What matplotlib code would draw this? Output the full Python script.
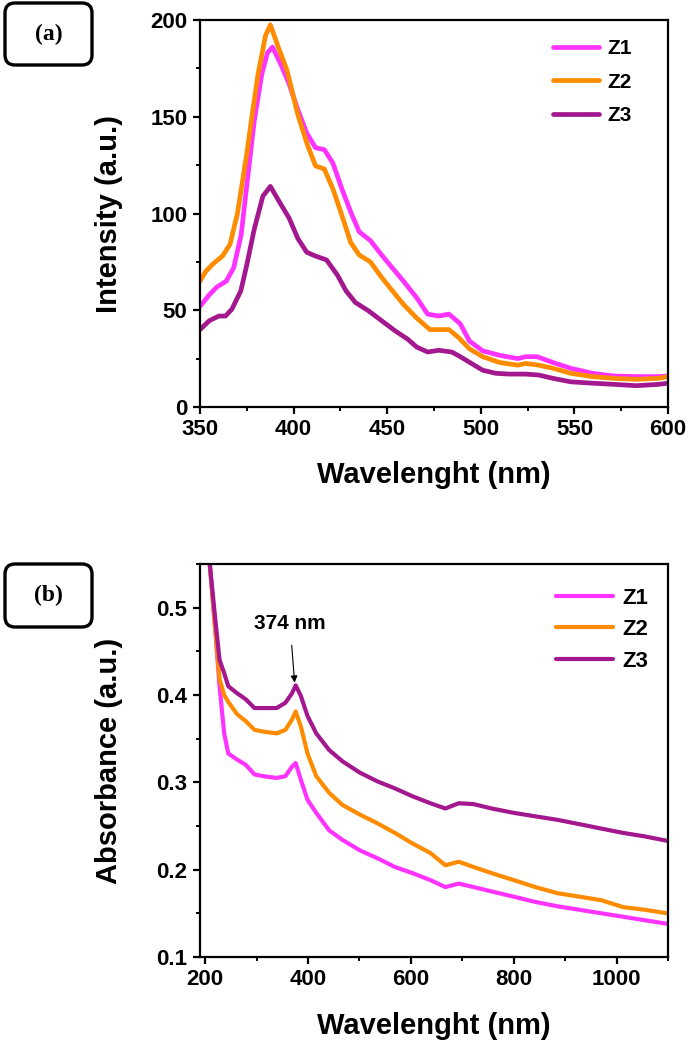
"""Photoluminescence and UV-vis absorbance of Z1-Z3"""

import matplotlib
matplotlib.use("Agg")
import matplotlib.pyplot as plt
from matplotlib.patches import FancyBboxPatch
from matplotlib.ticker import MultipleLocator

plt.rcParams['font.family'] = ['Liberation Sans', 'DejaVu Sans']
plt.rcParams['font.weight'] = 'bold'
plt.rcParams['lines.solid_joinstyle'] = 'round'
plt.rcParams['lines.solid_capstyle'] = 'round'

# colours of the three samples
colors = {'Z1': '#FF33FF', 'Z2': '#FF8C00', 'Z3': '#A3188F'}

# (a) PL emission
pl_wl_z1 = [350, 355, 359, 364, 368, 372, 375, 379, 383, 386, 388.7, 393, 397.6, 402.3, 407, 411.7,
            416.4, 421, 425.8, 430.5, 435, 441, 447, 452.8, 458.7, 465.7, 471.6, 477.5, 483, 489,
            494, 501, 510, 519.7, 524, 530, 538.5, 548, 559.6, 571, 583, 595, 600]
pl_z1 = [52, 58, 62, 65, 72, 89, 114.6, 148, 172, 183, 186, 177.5, 167, 153.5, 141.6, 134,
         133, 126, 112.7, 100.8, 90.6, 86, 78.6, 71.8, 65, 56.5, 48, 47, 48, 43,
         34, 29, 26.7, 25, 26, 26, 23, 20, 17.4, 16, 15.7, 15.7, 16]

pl_wl_z2 = [350, 353, 357, 362, 366, 370, 375, 378, 381, 385, 387.6, 391.8, 396.5, 402, 407, 411.7,
            416.4, 421, 425.8, 430.5, 435, 441, 447, 452.8, 458.7, 465.7, 472.8, 479.8, 483, 488,
            494, 501, 510, 519.7, 524, 531, 538.5, 548, 559.6, 571, 583, 595, 600]
pl_z2 = [65, 70, 74, 78, 84, 100, 131, 152, 172, 192, 197.5, 186, 174, 152, 136.5, 124.6,
         123, 112.7, 99, 85, 78.6, 75, 67, 60, 53, 46, 40, 40, 40, 36,
         30, 26, 23, 21.6, 22.5, 21.6, 20, 17.4, 15.7, 14.8, 14.3, 14.8, 15.7]

pl_wl_z3 = [350, 355, 360, 363.6, 367, 371.8, 375, 379, 383.6, 387.6, 391.8, 397.6, 402.3, 407,
            411.7, 417.6, 423.5, 428, 433, 440, 447, 454, 461, 465.7, 471.6, 477.5, 484.5, 489,
            495, 501, 508, 515, 524, 531, 538.5, 548, 559.6, 571, 583, 595, 600]
pl_z3 = [40, 44.6, 47, 47, 50.5, 60, 73.5, 92, 109, 114, 107, 97.6, 87, 80,
         78, 76, 68, 60, 54, 49.7, 44.6, 39.5, 35, 31, 28.4, 29.3, 28.4, 26,
         22.5, 19, 17.4, 17, 17, 16.5, 14.8, 13, 12.3, 11.7, 11, 11.7, 12.3]

# (b) UV-vis absorbance
abs_wl = [209, 219.6, 228, 237, 245, 262, 279, 296, 313, 339, 356, 369, 376, 386, 399, 416,
          441, 467, 501, 535, 569, 603, 638, 667, 693, 722, 757, 800, 842, 885, 928, 970,
          1013, 1055, 1098]
abs_z1 = [0.55, 0.475, 0.41, 0.356, 0.333, 0.326, 0.32, 0.309, 0.307, 0.305, 0.307, 0.318, 0.322,
          0.303, 0.28, 0.265, 0.245, 0.234, 0.222, 0.213, 0.203, 0.196, 0.188, 0.180, 0.184,
          0.180, 0.175, 0.169, 0.163, 0.158, 0.154, 0.150, 0.146, 0.142, 0.138]
abs_z2 = [0.55, 0.475, 0.418, 0.40, 0.392, 0.378, 0.37, 0.36, 0.358, 0.356, 0.36, 0.372, 0.381,
          0.364, 0.333, 0.307, 0.288, 0.274, 0.263, 0.253, 0.242, 0.230, 0.219, 0.205, 0.209,
          0.203, 0.196, 0.188, 0.180, 0.173, 0.169, 0.165, 0.157, 0.154, 0.150]
abs_z3 = [0.55, 0.487, 0.44, 0.425, 0.41, 0.402, 0.395, 0.385, 0.385, 0.385, 0.391, 0.402, 0.411,
          0.399, 0.376, 0.356, 0.337, 0.324, 0.311, 0.301, 0.293, 0.284, 0.276, 0.270, 0.276,
          0.275, 0.270, 0.265, 0.261, 0.257, 0.252, 0.247, 0.242, 0.238, 0.233]


def style_axes(ax, xmajor, xminor, ymajor, yminor):
    for sp in ax.spines.values():
        sp.set_linewidth(1.6)
    ax.xaxis.set_major_locator(MultipleLocator(xmajor))
    ax.xaxis.set_minor_locator(MultipleLocator(xminor))
    ax.yaxis.set_major_locator(MultipleLocator(ymajor))
    ax.yaxis.set_minor_locator(MultipleLocator(yminor))
    ax.tick_params(which='major', direction='out', length=5, width=1.6, labelsize=16, pad=4)
    ax.tick_params(which='minor', direction='out', length=3, width=1.4)
    for lab in ax.get_xticklabels() + ax.get_yticklabels():
        lab.set_fontweight('bold')


fig = plt.figure(figsize=(6.88, 10.43), dpi=100)
ax1 = fig.add_axes([0.2907, 0.6098, 0.6803, 0.3710])
ax2 = fig.add_axes([0.2907, 0.0825, 0.6803, 0.3768])

# panel a
ax1.plot(pl_wl_z1, pl_z1, color=colors['Z1'], lw=3.4, label='Z1')
ax1.plot(pl_wl_z2, pl_z2, color=colors['Z2'], lw=3.4, label='Z2')
ax1.plot(pl_wl_z3, pl_z3, color=colors['Z3'], lw=3.4, label='Z3')
ax1.set_xlim(350, 600)
ax1.set_ylim(0, 200)
style_axes(ax1, 50, 25, 50, 25)
ax1.set_xlabel('Wavelenght (nm)', fontsize=21, fontweight='bold')
ax1.set_ylabel('Intensity (a.u.)', fontsize=21, fontweight='bold')
ax1.xaxis.set_label_coords(0.5, -0.14)
ax1.yaxis.set_label_coords(-0.165, 0.5)
ax1.legend(loc='upper left', bbox_to_anchor=(0.755, 0.95), frameon=False,
           prop={'size': 15, 'weight': 'bold'}, handlelength=2.2, handletextpad=0.4,
           labelspacing=0.69, borderpad=0, borderaxespad=0)

# panel b
ax2.plot(abs_wl, abs_z1, color=colors['Z1'], lw=3.0, label='Z1')
ax2.plot(abs_wl, abs_z2, color=colors['Z2'], lw=3.0, label='Z2')
ax2.plot(abs_wl, abs_z3, color=colors['Z3'], lw=3.0, label='Z3')
ax2.set_xlim(190, 1100)
ax2.set_ylim(0.1, 0.55)
style_axes(ax2, 200, 100, 0.1, 0.05)
ax2.set_xlabel('Wavelenght (nm)', fontsize=21, fontweight='bold')
ax2.set_ylabel('Absorbance (a.u.)', fontsize=21, fontweight='bold')
ax2.xaxis.set_label_coords(0.5, -0.14)
ax2.yaxis.set_label_coords(-0.165, 0.5)
ax2.legend(loc='upper left', bbox_to_anchor=(0.76, 0.94), frameon=False,
           prop={'size': 16, 'weight': 'bold'}, handlelength=2.6, handletextpad=0.4,
           labelspacing=0.48, borderpad=0, borderaxespad=0)
ax2.annotate('374 nm', xy=(374, 0.414), xytext=(365, 0.482), ha='center', va='center',
             fontsize=15, fontweight='bold',
             arrowprops=dict(arrowstyle='-|>', color='black', lw=0.8, mutation_scale=10,
                             shrinkA=7, shrinkB=0))

# rounded boxes with panel letters
for (y0, h, txt) in [(9.78, 0.62, '(a)'), (4.16, 0.63, '(b)')]:
    box = FancyBboxPatch((0.05, y0), 0.87, h, boxstyle='round,pad=0,rounding_size=0.1',
                         transform=fig.dpi_scale_trans, facecolor='white',
                         edgecolor='black', lw=2.4)
    fig.patches.append(box)
    fig.text(0.485, y0 + h / 2, txt, transform=fig.dpi_scale_trans, ha='center', va='center',
             fontsize=17, fontweight='bold', family='Liberation Serif')

fig.savefig('out.png', dpi=100)
